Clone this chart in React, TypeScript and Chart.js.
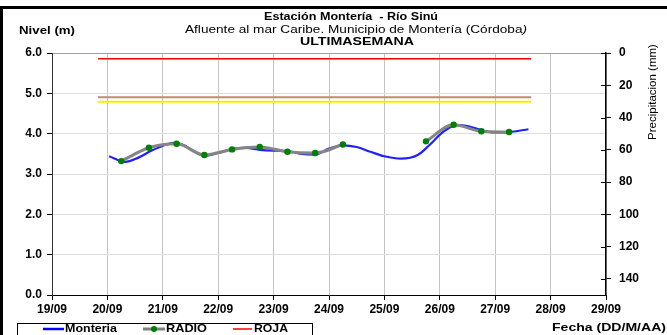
import React, { useEffect, useRef } from 'react';
import { Chart, registerables } from 'chart.js';

Chart.register(...registerables);

// ---- data ----
const dateLabels = ['19/09', '20/09', '21/09', '22/09', '23/09', '24/09', '25/09', '26/09', '27/09', '28/09', '29/09'];
const levelTicks = [0, 1, 2, 3, 4, 5, 6];
const rainTicks = [0, 20, 40, 60, 80, 100, 120, 140];

// days after 19/09 00:00
const monteriaDays = [1.03, 1.32, 1.55, 1.8, 2.07, 2.2, 2.35, 2.55, 2.75, 3.0, 3.25, 3.5, 3.75, 4.0, 4.25, 4.5, 4.75, 5.0, 5.25, 5.5, 5.75, 6.0, 6.3, 6.6, 6.8, 7.05, 7.3, 7.5, 7.8, 8.0, 8.25, 8.6];
const monteriaLevels = [3.44, 3.3, 3.4, 3.58, 3.73, 3.77, 3.73, 3.58, 3.45, 3.52, 3.62, 3.65, 3.6, 3.58, 3.57, 3.5, 3.48, 3.63, 3.71, 3.67, 3.55, 3.44, 3.38, 3.47, 3.7, 4.03, 4.21, 4.19, 4.07, 4.03, 4.04, 4.11];

const radioDays = [1.25, 1.75, 2.25, 2.75, 3.25, 3.75, 4.25, 4.75, 5.25, 5.75, 6.25, 6.75, 7.25, 7.75, 8.25];
const radioLevels = [3.32, 3.65, 3.75, 3.47, 3.61, 3.67, 3.55, 3.52, 3.73, null, null, 3.81, 4.22, 4.06, 4.04];

const thresholdDays = [0.83, 8.65];
const rojaLevels = [5.86, 5.86];
const naranjaLevels = [4.9, 4.9];
const amarillaLevels = [4.79, 4.79];

const FONT = '"Liberation Sans", Arial, Helvetica, sans-serif';

const toPoints = (xs: number[], ys: (number | null)[]) => xs.map((x, i) => ({ x, y: ys[i] }));

// draw text horizontally stretched to a target width
function fitText(
  ctx: CanvasRenderingContext2D,
  parts: { text: string; font: string }[],
  anchorX: number,
  y: number,
  width: number,
  align: 'left' | 'center' | 'right'
) {
  let total = 0;
  const ws = parts.map((p) => {
    ctx.font = p.font;
    const w = ctx.measureText(p.text).width;
    total += w;
    return w;
  });
  const sx = width / total;
  const left = align === 'left' ? anchorX : align === 'center' ? anchorX - width / 2 : anchorX - width;
  ctx.save();
  ctx.translate(left, y);
  ctx.scale(sx, 1);
  ctx.textAlign = 'left';
  ctx.textBaseline = 'middle';
  let x = 0;
  parts.forEach((p, i) => {
    ctx.font = p.font;
    ctx.fillText(p.text, x, 0);
    x += ws[i];
  });
  ctx.restore();
}

const overlayPlugin = {
  id: 'overlay',
  afterDraw(chart: any) {
    const ctx = chart.ctx as CanvasRenderingContext2D;
    ctx.save();
    // outer border (left + top)
    ctx.fillStyle = '#000';
    ctx.fillRect(0, 6, 667, 3);
    ctx.fillRect(0, 6, 3, 340);

    // titles
    ctx.fillStyle = '#000';
    fitText(ctx, [{ text: 'Estación Montería  - Río Sinú', font: `bold 11.5px ${FONT}` }], 351, 17, 174, 'center');
    fitText(
      ctx,
      [
        { text: 'Afluente al mar Caribe. Municipio de Montería (Córdoba', font: `11.5px ${FONT}` },
        { text: ')', font: `italic 11.5px ${FONT}` },
      ],
      356,
      29.5,
      342,
      'center'
    );
    fitText(ctx, [{ text: 'ULTIMASEMANA', font: `bold 11px ${FONT}` }], 357, 42, 114, 'center');

    // axis titles
    fitText(ctx, [{ text: 'Nivel (m)', font: `bold 11.5px ${FONT}` }], 19, 31, 56, 'left');
    fitText(ctx, [{ text: 'Fecha (DD/M/AA)', font: `bold 11.5px ${FONT}` }], 666, 328, 114, 'right');
    ctx.save();
    ctx.translate(653, 92);
    ctx.rotate(-Math.PI / 2);
    ctx.textAlign = 'center';
    ctx.textBaseline = 'middle';
    ctx.font = `11.5px ${FONT}`;
    ctx.fillText('Precipitacion (mm)', 0, 0);
    ctx.restore();

    // inward ticks on right axis
    const y2 = chart.scales.y2;
    const ax = chart.chartArea.right;
    ctx.strokeStyle = '#000';
    ctx.lineWidth = 1;
    rainTicks.forEach((v) => {
      const py = Math.round(y2.getPixelForValue(v)) + 0.5;
      ctx.beginPath();
      ctx.moveTo(ax - 5, py);
      ctx.lineTo(ax, py);
      ctx.stroke();
    });

    // legend
    ctx.strokeStyle = '#000';
    ctx.lineWidth = 1;
    ctx.strokeRect(17.5, 323.5, 295, 20);
    const ly = 329;
    ctx.fillStyle = '#000';
    ctx.strokeStyle = '#0000ff';
    ctx.lineWidth = 2.5;
    ctx.beginPath(); ctx.moveTo(43, ly); ctx.lineTo(64, ly); ctx.stroke();
    fitText(ctx, [{ text: 'Monteria', font: `bold 11.5px ${FONT}` }], 65, ly, 52, 'left');
    ctx.strokeStyle = '#808080';
    ctx.lineWidth = 3;
    ctx.beginPath(); ctx.moveTo(143, ly); ctx.lineTo(165, ly); ctx.stroke();
    ctx.fillStyle = '#008000';
    ctx.beginPath(); ctx.arc(154, ly, 3, 0, Math.PI * 2); ctx.fill();
    ctx.fillStyle = '#000';
    fitText(ctx, [{ text: 'RADIO', font: `bold 11.5px ${FONT}` }], 166, ly, 41, 'left');
    ctx.strokeStyle = '#ff0000';
    ctx.lineWidth = 1.5;
    ctx.beginPath(); ctx.moveTo(233, ly); ctx.lineTo(252, ly); ctx.stroke();
    fitText(ctx, [{ text: 'ROJA', font: `bold 11.5px ${FONT}` }], 254, ly, 34, 'left');
    ctx.restore();
  },
};

export default function App() {
  const ref = useRef<HTMLCanvasElement | null>(null);

  useEffect(() => {
    if (!ref.current) return;
    const tickFont = { family: FONT, size: 12, weight: 'bold' as const };
    const chart = new Chart(ref.current, {
      type: 'line',
      data: {
        datasets: [
          {
            label: 'RADIO puntos',
            data: toPoints(radioDays, radioLevels),
            showLine: false,
            pointRadius: 3.2,
            pointBackgroundColor: '#008000',
            pointBorderColor: '#008000',
            pointBorderWidth: 0,
          },
          {
            label: 'RADIO',
            data: toPoints(radioDays, radioLevels),
            borderColor: '#858585',
            borderWidth: 3,
            pointRadius: 0,
            cubicInterpolationMode: 'monotone',
            spanGaps: false,
          },
          {
            label: 'Monteria',
            data: toPoints(monteriaDays, monteriaLevels),
            borderColor: '#2020ff',
            borderWidth: 2.2,
            pointRadius: 0,
            cubicInterpolationMode: 'monotone',
          },
          {
            label: 'ROJA',
            data: toPoints(thresholdDays, rojaLevels),
            borderColor: '#ff0000',
            borderWidth: 1.5,
            pointRadius: 0,
          },
          {
            label: 'NARANJA',
            data: toPoints(thresholdDays, naranjaLevels),
            borderColor: '#b89070',
            borderWidth: 2,
            pointRadius: 0,
          },
          {
            label: 'AMARILLA',
            data: toPoints(thresholdDays, amarillaLevels),
            borderColor: '#f5f000',
            borderWidth: 2,
            pointRadius: 0,
          },
        ],
      },
      options: {
        responsive: false,
        animation: false,
        layout: { padding: { top: 53, left: 0, right: 0, bottom: 0 } },
        plugins: {
          legend: { display: false },
          tooltip: { enabled: false },
          title: { display: false },
        },
        scales: {
          x: {
            type: 'linear',
            min: 0,
            max: 10,
            afterBuildTicks: (s: any) => {
              s.ticks = dateLabels.map((_, i) => ({ value: i }));
            },
            afterFit: (s: any) => {
              s.height = 40;
            },
            ticks: {
              callback: (_v: any, i: number) => dateLabels[i],
              font: tickFont,
              color: '#000',
              padding: 2,
              maxRotation: 0,
              autoSkip: false,
            },
            grid: { color: '#c4c4c4', tickLength: 5, tickColor: '#000' },
            border: { color: '#000', width: 1 },
          },
          y: {
            position: 'left',
            min: 0,
            max: 6,
            afterBuildTicks: (s: any) => {
              s.ticks = levelTicks.map((v) => ({ value: v }));
            },
            afterFit: (s: any) => {
              s.width = 52;
            },
            ticks: {
              callback: (v: any) => Number(v).toFixed(1),
              font: tickFont,
              color: '#000',
              padding: 5,
            },
            grid: {
              color: (c: any) => (c.tick && c.tick.value === 6 ? '#a0a0a0' : '#dedede'),
              tickLength: 5,
              tickColor: '#000',
            },
            border: { color: '#333', width: 1 },
          },
          y2: {
            position: 'right',
            min: 0,
            max: 150,
            reverse: true,
            afterBuildTicks: (s: any) => {
              s.ticks = rainTicks.map((v) => ({ value: v }));
            },
            afterFit: (s: any) => {
              s.width = 61;
            },
            ticks: { font: tickFont, color: '#000', padding: 8 },
            grid: { drawOnChartArea: false, tickLength: 5, tickColor: '#000' },
            border: { color: '#000', width: 1.5 },
          },
        },
      },
      plugins: [overlayPlugin],
    } as any);
    return () => chart.destroy();
  }, []);

  return (
    <div style={{ position: 'absolute', left: 0, top: 0, width: 667, height: 335, background: '#fff' }}>
      <canvas ref={ref} width={667} height={335} style={{ display: 'block', width: 667, height: 335 }} />
    </div>
  );
}
